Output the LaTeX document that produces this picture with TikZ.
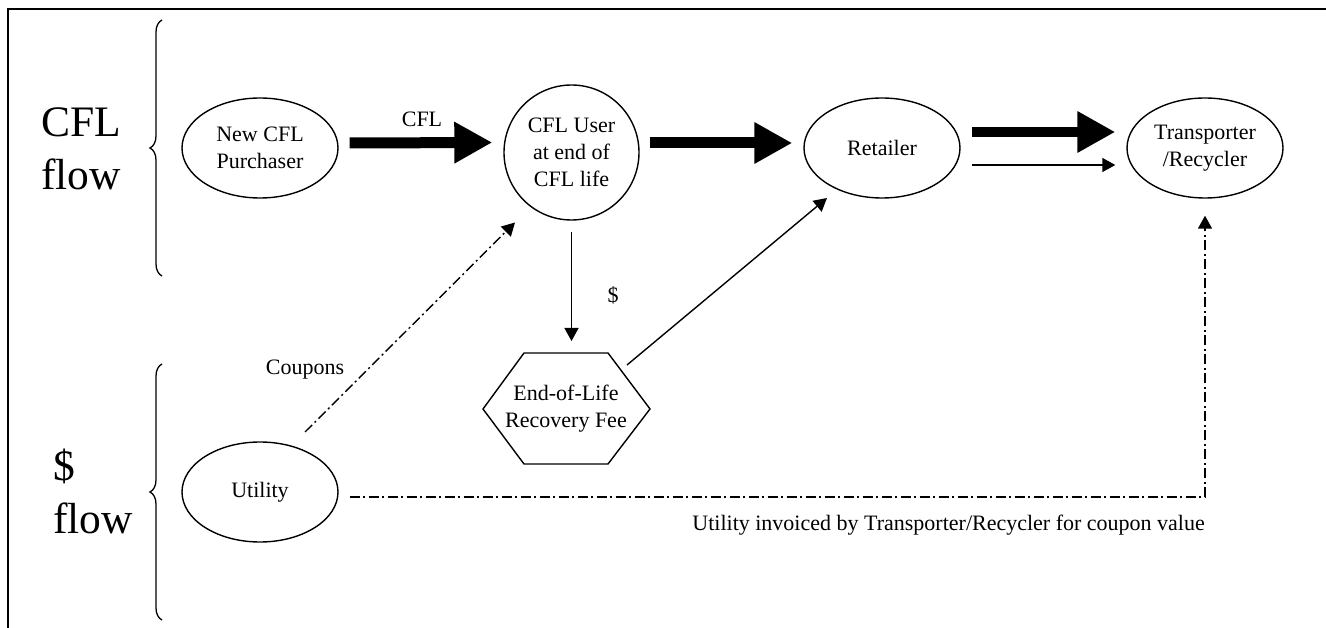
\documentclass[tikz,border=0pt]{standalone}
\usepackage{fontspec}
\setmainfont{Liberation Serif}
\usetikzlibrary{arrows.meta,shapes.geometric,decorations.pathreplacing}

\begin{document}
\begin{tikzpicture}[x=1pt,y=-1pt,
  every node/.style={inner sep=0pt, font=\fontsize{22}{27}\selectfont},
  oval/.style={draw, ellipse, line width=1.4pt, minimum width=156pt,
    minimum height=100pt, align=center},
  roundnode/.style={draw, circle, line width=1.4pt, minimum size=135pt, align=center},
  bigtext/.style={font=\fontsize{43.5}{53}\selectfont, align=left},
  bigarrow/.style={line width=11pt, -{Triangle[length=38pt,width=39pt]}},
  thinarrow/.style={line width=1.4pt, -{Triangle[length=13pt,width=14pt]}},
  dotarrow/.style={line width=1.4pt, dash pattern=on 10pt off 3.5pt on 2pt off 3.5pt,
    -{Triangle[length=13pt,width=14pt]}},
  bracket/.style={line width=1.3pt, decorate, decoration={brace, amplitude=12pt}},
  hexline/.style={line width=1.4pt, line join=miter}
]
\useasboundingbox (0,0) rectangle (1326,628);

% page frame
\draw[line width=2.5pt] (1326,9) -- (8,9) -- (8,628);

% group labels and braces
\node[bigtext, anchor=west] (cflflow) at (41,149) {CFL\\flow};
\node[bigtext, anchor=west] (dflow) at (53,491) {\$\\flow};
\draw[bracket] (162,276) -- (162,20);
\draw[bracket] (162,620) -- (162,364);

% actors
\node[oval] (pur) at (260,148) {New CFL\\Purchaser};
\node[roundnode] (user) at (571.5,152.5) {CFL User\\at end of\\CFL life};
\node[oval] (ret) at (882,148) {Retailer};
\node[oval] (trans) at (1205,148) {Transporter\\/Recycler};
\node[oval] (util) at (260,492) {Utility};
\node[align=center] (fee) at (566,409) {End-of-Life\\Recovery Fee};
\draw[hexline] ([shift={(-83,0)}]fee.center) -- ([shift={(-42,-56)}]fee.center)
  -- ([shift={(42,-56)}]fee.center) -- ([shift={(84,0)}]fee.center)
  -- ([shift={(42,55)}]fee.center) -- ([shift={(-42,55)}]fee.center) -- cycle;

% lamp flow
\draw[bigarrow] ([shift={(11,-5)}]pur.east) -- ([shift={(-11,-10)}]user.west);
\draw[bigarrow] ([shift={(10,-9.5)}]user.east) -- ([shift={(-11,-5)}]ret.west);
\draw[bigarrow, line width=10pt] ([shift={(11,-16)}]ret.east) -- ([shift={(-11,-16)}]trans.west);
\draw[thinarrow] ([shift={(11,17)}]ret.east) -- ([shift={(-11,17)}]trans.west);

% money flow
\draw[thinarrow, shorten <=11pt, shorten >=68pt] (user.south) -- (user.south |- fee.center);
\draw[thinarrow] ([shift={(61,-44)}]fee.center) -- ([shift={(-55,50)}]ret.center);
\draw[dotarrow] ([shift={(45,-60)}]util.center) -- ([shift={(-56.5,70)}]user.center);
\draw[dotarrow, shorten >=17pt] ([shift={(11,5)}]util.east) -| (trans.south);

% connector labels
\node[anchor=base] (cfllab) at (422,127) {CFL};
\node[anchor=base] (couplab) at (305,375) {Coupons};
\node[anchor=base] (feelab) at (613,303) {\$};
\node[anchor=base east] (invlab) at (1205,530) {Utility invoiced by Transporter/Recycler for coupon value};
\end{tikzpicture}
\end{document}
